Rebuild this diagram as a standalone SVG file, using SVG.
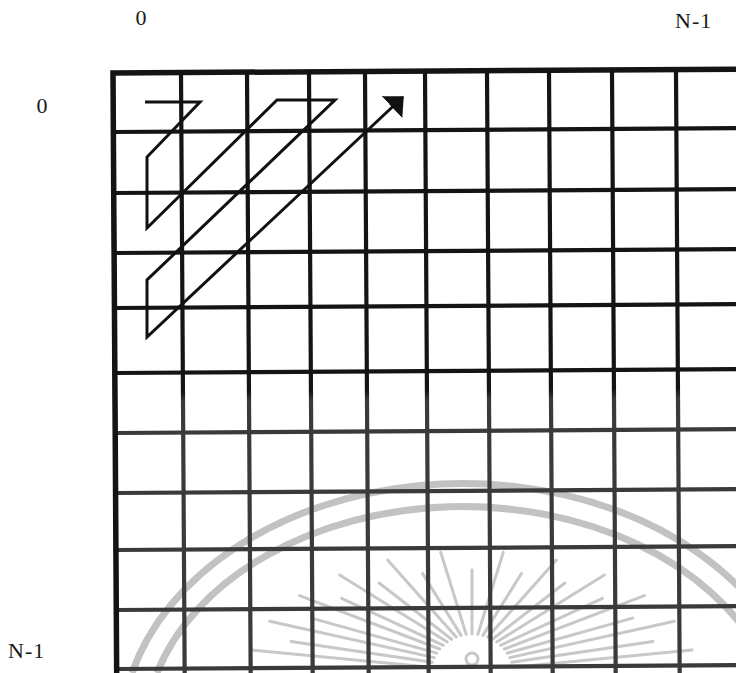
<svg xmlns="http://www.w3.org/2000/svg" width="736" height="673" viewBox="0 0 736 673">
  <style>
    .lbl { font-family: "Liberation Serif", "Times New Roman", serif; font-size: 22px; fill: #1a1a1a; }
    .wm-arc { fill: none; stroke: #c2c2c2; stroke-width: 7; }
    .wm-ray { stroke: #c8c8c8; stroke-width: 3; stroke-linecap: round; }
    .grid-line { fill: none; stroke: url(#gridInk); stroke-width: 4.2; stroke-linecap: square; }
    .scan { fill: none; stroke: #111; stroke-width: 3; stroke-linejoin: miter; }
  </style>
  <defs>
    <linearGradient id="gridInk" gradientUnits="userSpaceOnUse" x1="0" y1="392" x2="0" y2="402">
      <stop offset="0" stop-color="#141414"/>
      <stop offset="1" stop-color="#3a3a3a"/>
    </linearGradient>
    <marker id="arrowHead" markerUnits="userSpaceOnUse" viewBox="0 0 16 30" markerWidth="16" markerHeight="30" refX="15" refY="15" orient="auto">
      <path d="M0,0 L16,15 L0,30 Z" fill="#111"/>
    </marker>
  </defs>

  <rect width="736" height="673" fill="#ffffff"/>

  <g id="watermark">
    <path class="wm-arc" d="M132,673 A342,253 0 0 1 760,611"/>
    <path class="wm-arc" d="M157,673 A318,229 0 0 1 760,654"/>
    <circle cx="472" cy="659" r="6" fill="none" stroke="#c8c8c8" stroke-width="3"/>
    <g class="wm-ray">
      <line x1="513.1" y1="667.3" x2="692.1" y2="650"/>
      <line x1="511.7" y1="662.3" x2="652.9" y2="641.4"/>
      <line x1="509.8" y1="657.6" x2="674.3" y2="621.2"/>
      <line x1="507.2" y1="653.1" x2="632.5" y2="618.1"/>
      <line x1="504.2" y1="649" x2="644.4" y2="595.6"/>
      <line x1="500.6" y1="645.3" x2="602.4" y2="598.3"/>
      <line x1="496.7" y1="642" x2="604.3" y2="574.9"/>
      <line x1="492.4" y1="639.3" x2="564.8" y2="583"/>
      <line x1="487.8" y1="637.1" x2="556.4" y2="560.1"/>
      <line x1="482.9" y1="635.4" x2="521.5" y2="573.4"/>
      <line x1="477.8" y1="634.4" x2="503.3" y2="552.2"/>
      <line x1="472" y1="634" x2="472" y2="569.8"/>
      <line x1="466.2" y1="634.4" x2="440.7" y2="552.2"/>
      <line x1="461.1" y1="635.4" x2="422.5" y2="573.4"/>
      <line x1="456.2" y1="637.1" x2="387.6" y2="560.1"/>
      <line x1="451.6" y1="639.3" x2="379.2" y2="583"/>
      <line x1="447.3" y1="642" x2="339.7" y2="574.9"/>
      <line x1="443.4" y1="645.3" x2="341.6" y2="598.3"/>
      <line x1="439.8" y1="649" x2="299.6" y2="595.6"/>
      <line x1="436.8" y1="653.1" x2="311.5" y2="618.1"/>
      <line x1="434.2" y1="657.6" x2="269.7" y2="621.2"/>
      <line x1="432.3" y1="662.3" x2="291.1" y2="641.4"/>
      <line x1="430.9" y1="667.3" x2="251.9" y2="650"/>
    </g>
  </g>

  <g id="grid" transform="rotate(-0.35 112 73)">
    <path class="grid-line" d="M113,73 V680 M181,73 V680 M247,73 V680 M309,73 V680 M365,73 V680 M425,73 V680 M487,73 V680 M549,73 V680 M612,73 V680 M676,73 V680"/>
    <path class="grid-line" d="M113,132 H745 M113,193 H745 M113,253 H745 M113,308 H745 M113,373 H745 M113,433 H745 M113,493 H745 M113,550 H745 M113,610 H745 M113,669 H745"/>
    <path fill="none" stroke="#141414" stroke-width="5.5" d="M113,676 V73 H745"/>
  </g>

  <g id="connectors">
    <path id="scan-path" class="scan" marker-end="url(#arrowHead)"
          d="M145,102 H200 L147,157 V228 L277,100 H335 L147,280 V337 L403,97"/>
  </g>

  <g id="labels">
    <text id="col-0" class="lbl" x="141" y="25" text-anchor="middle">0</text>
    <text id="col-n1" class="lbl" x="675" y="28" letter-spacing="1">N-1</text>
    <text id="row-0" class="lbl" x="42" y="113" text-anchor="middle">0</text>
    <text id="row-n1" class="lbl" x="8" y="658" letter-spacing="1">N-1</text>
  </g>
</svg>
